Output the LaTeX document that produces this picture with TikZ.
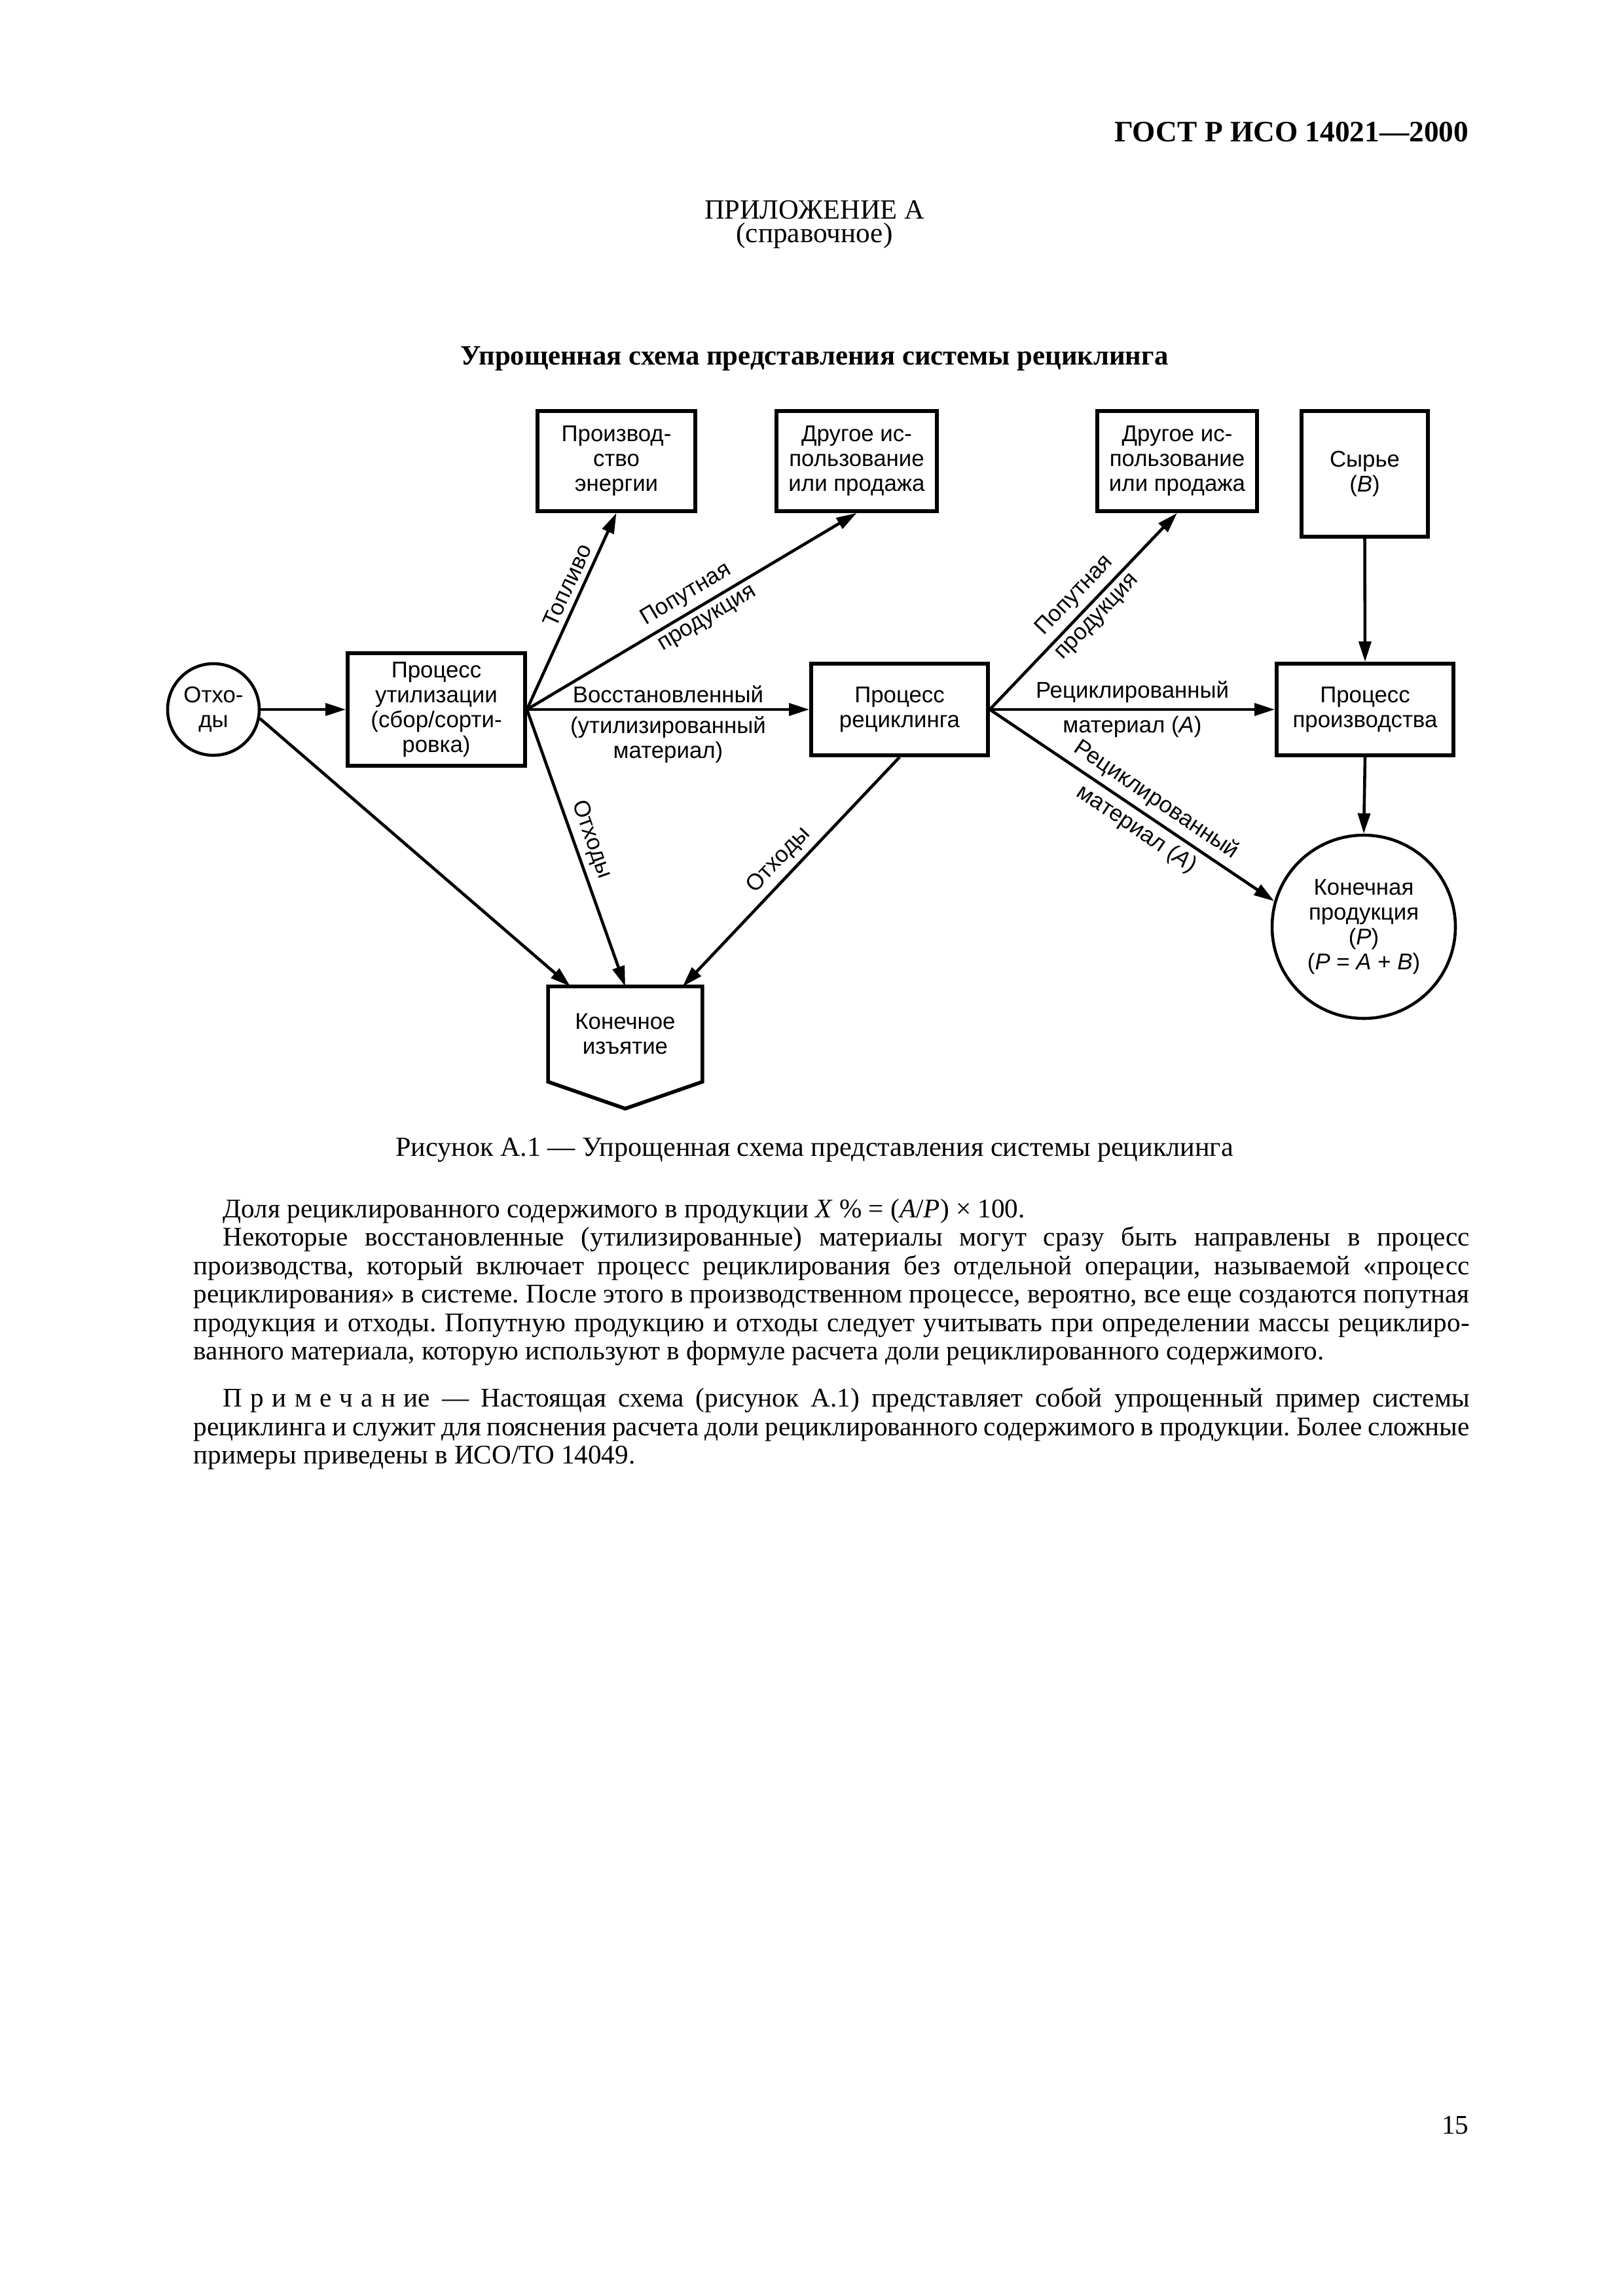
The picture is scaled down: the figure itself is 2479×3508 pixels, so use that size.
\documentclass[tikz,border=0pt]{standalone}
\usepackage{fontspec}
\setmainfont{Liberation Serif}
\newfontfamily\diagfont{Liberation Sans}
\usetikzlibrary{arrows.meta,calc}
\frenchspacing

\newsavebox\measbox
\newlength\measw
% \fitfs{<macro>}{<target width in px>}{<sample text>}
\newcommand\fitfs[3]{\sbox\measbox{\fontsize{10pt}{12pt}\selectfont #3}%
  \setlength\measw{\wd\measbox}%
  \pgfmathparse{(#2*2.40906)/\measw}\global\let#1\pgfmathresult}
\def\px{0.240906pt}
\newcommand\dfont{\diagfont\fontsize{\dfs pt}{9.15pt}\selectfont}

\tikzset{
  dg/.style={font=\dfont},
  box/.style={draw, line width=1.35pt, dg, align=center, inner sep=0pt},
  conn/.style={line width=1.1pt, -{Triangle[length=7.5pt,width=4.5pt]}},
  lab/.style={dg, sloped, align=center, inner sep=2pt},
  bodytxt/.style={anchor=base west, inner sep=0pt, font=\fontsize{\bodyfs pt}{12pt}\selectfont\frenchspacing},
  ctr/.style={anchor=base, inner sep=0pt}
}

\begin{document}
\fitfs\hdrfs{541}{\bfseries ГОСТ Р ИСО 14021—2000}%
\fitfs\appfs{336}{ПРИЛОЖЕНИЕ А}%
\fitfs\sprfs{239}{(справочное)}%
\fitfs\ttlfs{1081}{\bfseries Упрощенная схема представления системы рециклинга}%
\fitfs\capfs{1280}{Рисунок А.1 — Упрощенная схема представления системы рециклинга}%
\fitfs\bodyfs{1727}{ванного материала, которую используют в формуле расчета доли рециклированного содержимого.}%
\fitfs\dfs{295}{\diagfont Рециклированный}%
\begin{tikzpicture}[x=0.240906pt, y=-0.240906pt]
\fill[white] (0,0) rectangle (2479,3508);
\useasboundingbox (0,0) rectangle (2479,3508);

% ---- page texts
\node[anchor=base east, inner sep=0pt, font=\fontsize{\hdrfs pt}{12pt}\selectfont\bfseries] (hdr) at (2244,216) {ГОСТ Р ИСО 14021—2000};
\node[ctr, font=\fontsize{\appfs pt}{12pt}\selectfont] (app) at (1244,334) {ПРИЛОЖЕНИЕ А};
\node[ctr, font=\fontsize{\sprfs pt}{12pt}\selectfont] (spr) at (1244,370) {(справочное)};
\node[ctr, font=\fontsize{\ttlfs pt}{12pt}\selectfont\bfseries] (ttl) at (1244,557) {Упрощенная схема представления системы рециклинга};

% ---- diagram nodes
\node[box, minimum width=241*\px, minimum height=153*\px] (pe) at (941.5,704.5) {Производ-\\ство\\энергии};
\node[box, minimum width=245*\px, minimum height=153*\px] (o1) at (1308.5,704.5) {Другое ис-\\пользование\\или продажа};
\node[box, minimum width=244*\px, minimum height=153*\px] (o2) at (1798,704.5) {Другое ис-\\пользование\\или продажа};
\node[box, minimum width=193*\px, minimum height=192*\px] (raw) at (2084.5,724) {Сырье\\(\textit{B})};
\node[box, minimum width=271*\px, minimum height=172*\px] (ut) at (666.5,1084) {Процесс\\утилизации\\(сбор/сорти-\\ровка)};
\node[box, minimum width=270*\px, minimum height=140*\px] (rc) at (1374,1084) {Процесс\\рециклинга};
\node[box, minimum width=270*\px, minimum height=140*\px] (pp) at (2085,1084) {Процесс\\производства};
\node[box, circle, line width=1.1pt, minimum size=140*\px] (otx) at (326,1084) {Отхо-\\ды};
\node[box, circle, line width=1.1pt, minimum size=280*\px] (fin) at (2083,1416) {Конечная\\продукция\\(\textit{P})\\(\textit{P} = \textit{A} + \textit{B})};
\node[dg, align=center, inner sep=0pt, minimum width=234*\px, minimum height=144*\px] (izt) at (955,1580) {Конечное\\изъятие};
\draw[line width=1.35pt] (izt.south west) -- (izt.north west) -- (izt.north east) -- (izt.south east) -- ($(izt.south)+(0,41)$) -- cycle;

% ---- connectors
\draw[conn] (otx.east) -- (ut.west);
\draw[conn] (otx.-11) -- ($(izt.north west)!0.145!(izt.north east)$);
\draw[conn] (ut.east) -- (pe.south) node[lab, pos=0.6, above] {Топливо};
\draw[conn] (ut.east) -- (o1.south)
  node[lab, pos=0.51, above] {Попутная}
  node[lab, pos=0.525, below] {продукция};
\draw[conn] (ut.east) -- (rc.west)
  node[lab, midway, above] {Восстановленный}
  node[lab, midway, below] {(утилизированный\\материал)};
\draw[conn] (ut.east) -- (izt.north) node[lab, pos=0.49, above] {Отходы};
\draw[conn] (rc.south) -- ($(izt.north west)!0.872!(izt.north east)$) node[lab, pos=0.5, above] {Отходы};
\draw[conn] (rc.east) -- (o2.south)
  node[lab, pos=0.52, above] {Попутная}
  node[lab, pos=0.52, below] {продукция};
\draw[conn] (rc.east) -- (pp.west)
  node[lab, midway, above] {Рециклированный}
  node[lab, midway, below] {материал (\textit{A})};
\draw[conn] (rc.east) -- (fin.164)
  node[lab, pos=0.55, above] {Рециклированный}
  node[lab, pos=0.55, below] {материал (\textit{A})};
\draw[conn] (raw.south) -- (pp.north);
\draw[conn] (pp.south) -- (fin.north);

% ---- caption and body
\node[ctr, font=\fontsize{\capfs pt}{12pt}\selectfont] (cap) at (1244,1766) {Рисунок А.1 — Упрощенная схема представления системы рециклинга};

\node[bodytxt] (b1) at (340,1860) {Доля рециклированного содержимого в продукции \textit{X}~\% = (\textit{A}/\textit{P}) × 100.};
\node[bodytxt] (b2) at (340,1903.5) {\makebox[458.7pt][s]{Некоторые восстановленные (утилизированные) материалы могут сразу быть направлены в процесс}};
\node[bodytxt] (b3) at (295,1947) {\makebox[469.5pt][s]{производства, который включает процесс рециклирования без отдельной операции, называемой «процесс}};
\node[bodytxt] (b4) at (295,1990.5) {\makebox[469.5pt][s]{рециклирования» в системе. После этого в производственном процессе, вероятно, все еще создаются попутная}};
\node[bodytxt] (b5) at (295,2034) {\makebox[469.5pt][s]{продукция и отходы. Попутную продукцию и отходы следует учитывать при определении массы рециклиро-}};
\node[bodytxt] (b6) at (295,2077.5) {ванного материала, которую используют в формуле расчета доли рециклированного содержимого.};
\node[bodytxt] (n1) at (340,2149.5) {\makebox[458.7pt][s]{{\addfontfeatures{LetterSpace=30}Примечани}е — Настоящая схема (рисунок А.1) представляет собой упрощенный пример системы}};
\node[bodytxt] (n2) at (295,2193) {\makebox[469.5pt][s]{рециклинга и служит для пояснения расчета доли рециклированного содержимого в продукции. Более сложные}};
\node[bodytxt] (n3) at (295,2236.5) {примеры приведены в ИСО/ТО 14049.};

\node[anchor=base east, inner sep=0pt, font=\fontsize{\bodyfs pt}{12pt}\selectfont] (pg) at (2244,3260) {15};
\end{tikzpicture}
\end{document}
